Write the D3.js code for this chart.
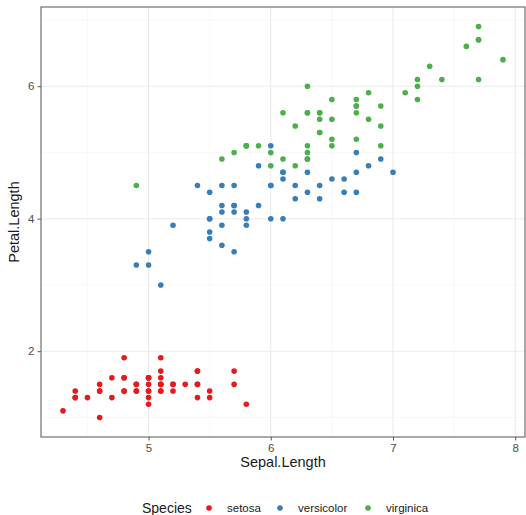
<!DOCTYPE html>
<html>
<head>
<meta charset="utf-8">
<script src="https://cdn.jsdelivr.net/npm/d3@7"></script>
<style>
  body { margin: 0; background: #fff; }
  svg { font-family: "Liberation Sans", Arial, sans-serif; }
</style>
</head>
<body>
<div id="chart"></div>
<script>
/* iris data: Sepal.Length and Petal.Length by species */
const species = ["setosa", "versicolor", "virginica"];
const colors = ["#E41A1C", "#377EB8", "#4DAF4A"];

const setosa_sepal = [5.1,4.9,4.7,4.6,5.0,5.4,4.6,5.0,4.4,4.9,5.4,4.8,4.8,4.3,5.8,5.7,5.4,5.1,5.7,5.1,5.4,5.1,4.6,5.1,4.8,5.0,5.0,5.2,5.2,4.7,4.8,5.4,5.2,5.5,4.9,5.0,5.5,4.9,4.4,5.1,5.0,4.5,4.4,5.0,5.1,4.8,5.1,4.6,5.3,5.0];
const setosa_petal = [1.4,1.4,1.3,1.5,1.4,1.7,1.4,1.5,1.4,1.5,1.5,1.6,1.4,1.1,1.2,1.5,1.3,1.4,1.7,1.5,1.7,1.5,1.0,1.7,1.9,1.6,1.6,1.5,1.4,1.6,1.6,1.5,1.5,1.4,1.5,1.2,1.3,1.4,1.3,1.5,1.3,1.3,1.3,1.6,1.9,1.4,1.6,1.4,1.5,1.4];

const versicolor_sepal = [7.0,6.4,6.9,5.5,6.5,5.7,6.3,4.9,6.6,5.2,5.0,5.9,6.0,6.1,5.6,6.7,5.6,5.8,6.2,5.6,5.9,6.1,6.3,6.1,6.4,6.6,6.8,6.7,6.0,5.7,5.5,5.5,5.8,6.0,5.4,6.0,6.7,6.3,5.6,5.5,5.5,6.1,5.8,5.0,5.6,5.7,5.7,6.2,5.1,5.7];
const versicolor_petal = [4.7,4.5,4.9,4.0,4.6,4.5,4.7,3.3,4.6,3.9,3.5,4.2,4.0,4.7,3.6,4.4,4.5,4.1,4.5,3.9,4.8,4.0,4.9,4.7,4.3,4.4,4.8,5.0,4.5,3.5,3.8,3.7,3.9,5.1,4.5,4.5,4.7,4.4,4.1,4.0,4.4,4.6,4.0,3.3,4.2,4.2,4.2,4.3,3.0,4.1];

const virginica_sepal = [6.3,5.8,7.1,6.3,6.5,7.6,4.9,7.3,6.7,7.2,6.5,6.4,6.8,5.7,5.8,6.4,6.5,7.7,7.7,6.0,6.9,5.6,7.7,6.3,6.7,7.2,6.2,6.1,6.4,7.2,7.4,7.9,6.4,6.3,6.1,7.7,6.3,6.4,6.0,6.9,6.7,6.9,5.8,6.8,6.7,6.7,6.3,6.5,6.2,5.9];
const virginica_petal = [6.0,5.1,5.9,5.6,5.8,6.6,4.5,6.3,5.8,6.1,5.1,5.3,5.5,5.0,5.1,5.3,5.5,6.7,6.9,5.0,5.7,4.9,6.7,4.9,5.7,6.0,4.8,4.9,5.6,5.8,6.1,6.4,5.6,5.1,5.6,6.1,5.6,5.5,4.8,5.4,5.6,5.1,5.1,5.9,5.7,5.2,5.0,5.2,5.4,5.1];

const x_ticks = [5, 6, 7, 8];
const x_minor = [4.5, 5.5, 6.5, 7.5];
const y_ticks = [2, 4, 6];
const y_minor = [1, 3, 5, 7];

const sepal_by_species = [setosa_sepal, versicolor_sepal, virginica_sepal];
const petal_by_species = [setosa_petal, versicolor_petal, virginica_petal];

let points = [];
species.forEach((s, k) => {
    sepal_by_species[k].forEach((v, i) => {
        points.push({ species: s, x: v, y: petal_by_species[k][i] });
    });
});

const W = 526, H = 515;
const margin = { top: 7, right: 1, bottom: 78, left: 41 };
const width = W - margin.left - margin.right,
      height = H - margin.top - margin.bottom;

const svg = d3.select("#chart").append("svg")
    .attr("width", W).attr("height", H);
const g = svg.append("g")
    .attr("transform", `translate(${margin.left}, ${margin.top})`);

/* ggplot style 5% expansion */
const xr = d3.extent(points, d => d.x), yr = d3.extent(points, d => d.y);
const xpad = (xr[1] - xr[0]) * 0.05, ypad = (yr[1] - yr[0]) * 0.05;
const x = d3.scaleLinear().domain([xr[0] - xpad, xr[1] + xpad]).range([0, width]);
const y = d3.scaleLinear().domain([yr[0] - ypad, yr[1] + ypad]).range([height, 0]);
const color = d3.scaleOrdinal().domain(species).range(colors);

/* grid */
g.append("g").selectAll("line").data(x_minor).join("line")
    .attr("x1", d => x(d)).attr("x2", d => x(d)).attr("y1", 0).attr("y2", height)
    .attr("stroke", "#f3f3f3").attr("stroke-width", 0.6);
g.append("g").selectAll("line").data(y_minor).join("line")
    .attr("y1", d => y(d)).attr("y2", d => y(d)).attr("x1", 0).attr("x2", width)
    .attr("stroke", "#f3f3f3").attr("stroke-width", 0.6);
g.append("g").selectAll("line").data(x_ticks).join("line")
    .attr("x1", d => x(d)).attr("x2", d => x(d)).attr("y1", 0).attr("y2", height)
    .attr("stroke", "#ebebeb").attr("stroke-width", 1.1);
g.append("g").selectAll("line").data(y_ticks).join("line")
    .attr("y1", d => y(d)).attr("y2", d => y(d)).attr("x1", 0).attr("x2", width)
    .attr("stroke", "#ebebeb").attr("stroke-width", 1.1);

/* points */
g.append("g").selectAll("circle").data(points).join("circle")
    .attr("cx", d => x(d.x))
    .attr("cy", d => y(d.y))
    .attr("r", 2.8)
    .attr("fill", d => color(d.species));

/* panel border */
g.append("rect").attr("width", width).attr("height", height)
    .attr("fill", "none").attr("stroke", "#555").attr("stroke-width", 1);

/* axes */
const xAxis = g.append("g").attr("transform", `translate(0, ${height})`)
    .call(d3.axisBottom(x).tickValues(x_ticks).tickSize(3.5).tickPadding(3).tickFormat(d3.format("d")));
const yAxis = g.append("g")
    .call(d3.axisLeft(y).tickValues(y_ticks).tickSize(3.5).tickPadding(3).tickFormat(d3.format("d")));
[xAxis, yAxis].forEach(a => {
    a.select(".domain").remove();
    a.selectAll(".tick line").attr("stroke", "#555");
    a.selectAll(".tick text").attr("fill", "#4d4d4d")
        .style("font-size", "11.5px").style("font-family", "Liberation Sans, Arial, sans-serif");
});

/* axis titles */
svg.append("text")
    .attr("x", margin.left + width / 2).attr("y", 467)
    .attr("text-anchor", "middle").style("font-size", "14.5px").attr("fill", "#1a1a1a")
    .text("Sepal.Length");
svg.append("text")
    .attr("transform", `translate(19, ${margin.top + height / 2}) rotate(-90)`)
    .attr("text-anchor", "middle").style("font-size", "14.5px").attr("fill", "#1a1a1a")
    .text("Petal.Length");

/* legend */
const legend = svg.append("g").attr("transform", "translate(0, 508)");
legend.append("text").attr("x", 142).attr("y", 5)
    .style("font-size", "14px").attr("fill", "#1a1a1a").text("Species");
const dot_x = [209, 280, 368];
species.forEach((s, i) => {
    legend.append("circle").attr("cx", dot_x[i]).attr("cy", 0).attr("r", 2.8).attr("fill", color(s));
    legend.append("text").attr("x", dot_x[i] + 18).attr("y", 4)
        .style("font-size", "11.5px").attr("fill", "#1a1a1a").text(s);
});
</script>
</body>
</html>
